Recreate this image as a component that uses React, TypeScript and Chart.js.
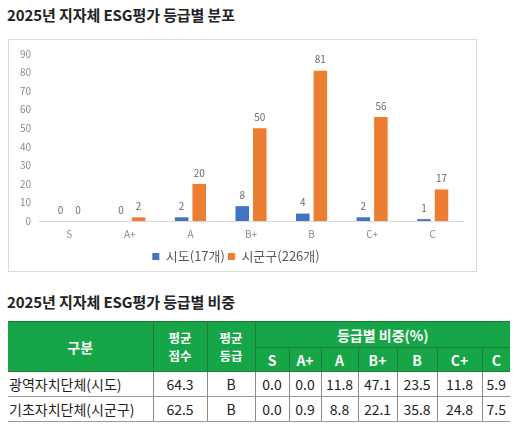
import React, { useEffect, useRef } from "react";
import { Chart, registerables } from "chart.js";

Chart.register(...registerables);

const FONT = '"Noto Sans CJK KR", "Noto Sans", sans-serif';

const chartTitle = "2025년 지자체 ESG평가 등급별 분포";
const tableTitle = "2025년 지자체 ESG평가 등급별 비중";

const grades = ["S", "A+", "A", "B+", "B", "C+", "C"];
const sidoCounts = [0, 0, 2, 8, 4, 2, 1];
const sigunguCounts = [0, 2, 20, 50, 81, 56, 17];
const seriesNames = ["시도(17개)", "시군구(226개)"];
const yMax = 90;
const yStep = 10;

const rowNames = ["광역자치단체(시도)", "기초자치단체(시군구)"];
const avgScores = [64.3, 62.5];
const avgGrades = ["B", "B"];
const sidoShare = [0.0, 0.0, 11.8, 47.1, 23.5, 11.8, 5.9];
const sigunguShare = [0.0, 0.9, 8.8, 22.1, 35.8, 24.8, 7.5];
const shareRows = [sidoShare, sigunguShare];

const BLUE = "#4472C4";
const ORANGE = "#ED7D31";
const GREEN = "#17a647";
const GREEN_LINE = "#1f7a3c";

const valueLabels = {
  id: "valueLabels",
  afterDatasetsDraw(chart: any) {
    const ctx = chart.ctx;
    ctx.save();
    ctx.font = `10px ${FONT}`;
    ctx.fillStyle = "#6b6b6b";
    ctx.textAlign = "center";
    ctx.textBaseline = "middle";
    chart.data.datasets.forEach((ds: any, i: number) => {
      const meta = chart.getDatasetMeta(i);
      meta.data.forEach((el: any, j: number) => {
        ctx.fillText(String(ds.data[j]), el.x, el.y - 11);
      });
    });
    ctx.restore();
  },
};

function BarChart() {
  const ref = useRef<HTMLCanvasElement | null>(null);
  useEffect(() => {
    if (!ref.current) return;
    Chart.defaults.font.family = FONT;
    const chart = new Chart(ref.current, {
      type: "bar",
      data: {
        labels: grades,
        datasets: [
          {
            label: seriesNames[0],
            data: sidoCounts,
            backgroundColor: BLUE,
            categoryPercentage: 0.58,
            barPercentage: 0.77,
          },
          {
            label: seriesNames[1],
            data: sigunguCounts,
            backgroundColor: ORANGE,
            categoryPercentage: 0.58,
            barPercentage: 0.77,
          },
        ],
      },
      options: {
        animation: false,
        responsive: true,
        maintainAspectRatio: false,
        layout: { padding: { top: 8, right: 13, left: 0, bottom: -2 } },
        plugins: {
          tooltip: { enabled: false },
          legend: {
            position: "bottom",
            labels: {
              boxWidth: 7,
              boxHeight: 7,
              padding: 3,
              color: "#595959",
              font: { size: 13, family: FONT },
            },
          },
        },
        scales: {
          x: {
            grid: { display: false, drawTicks: false },
            border: { display: true, color: "#d9d9d9" },
            ticks: { color: "#8c8c8c", font: { size: 10 }, padding: 7 },
          },
          y: {
            min: 0,
            max: yMax,
            afterFit: (s: any) => {
              s.width = 30;
            },
            grid: { display: false, drawTicks: false },
            border: { display: false },
            ticks: { stepSize: yStep, color: "#8c8c8c", font: { size: 10 }, padding: 8 },
          },
        },
      },
      plugins: [valueLabels],
    });
    return () => chart.destroy();
  }, []);
  return (
    <div style={{ position: "relative", width: 467, height: 231 }}>
      <canvas ref={ref} />
    </div>
  );
}

const thBase: React.CSSProperties = {
  background: GREEN,
  color: "#fff",
  fontWeight: 700,
  border: `1px solid ${GREEN_LINE}`,
  padding: 0,
  textAlign: "center",
  verticalAlign: "middle",
};

const tdBase: React.CSSProperties = {
  borderLeft: "1px solid #8a8a8a",
  borderBottom: "1px solid #9a9a9a",
  padding: 0,
  textAlign: "center",
  verticalAlign: "middle",
  fontSize: 14,
  color: "#222",
  height: 24,
};

const colWidths = [145, 54, 48, 34, 32, 37, 39, 40, 45, 28];

export default function App() {
  return (
    <div
      style={{
        position: "absolute",
        left: 0,
        top: 0,
        width: 530,
        height: 432,
        background: "#fff",
        fontFamily: FONT,
      }}
    >
      <div
        style={{
          position: "absolute",
          left: 7,
          top: 5,
          fontSize: 15,
          lineHeight: "20px",
          fontWeight: 700,
          color: "#222",
          letterSpacing: -0.1,
        }}
      >
        {chartTitle}
      </div>
      <div
        style={{
          position: "absolute",
          left: 8,
          top: 39,
          width: 469,
          height: 233,
          boxSizing: "border-box",
          border: "1px solid #d9d9d9",
        }}
      >
        <BarChart />
      </div>
      <div
        style={{
          position: "absolute",
          left: 7,
          top: 292,
          fontSize: 15,
          lineHeight: "20px",
          fontWeight: 700,
          color: "#222",
          letterSpacing: -0.1,
        }}
      >
        {tableTitle}
      </div>
      <table
        style={{
          position: "absolute",
          left: 8,
          top: 321,
          width: 502,
          borderCollapse: "collapse",
          tableLayout: "fixed",
          fontFamily: FONT,
        }}
      >
        <colgroup>
          {colWidths.map((w, i) => (
            <col key={i} style={{ width: w }} />
          ))}
        </colgroup>
        <thead>
          <tr style={{ height: 26 }}>
            <th rowSpan={2} style={{ ...thBase, fontSize: 14, borderLeft: "none" }}>
              구분
            </th>
            <th rowSpan={2} style={{ ...thBase, fontSize: 12.5, lineHeight: "18px" }}>
              평균
              <br />
              점수
            </th>
            <th rowSpan={2} style={{ ...thBase, fontSize: 12.5, lineHeight: "18px" }}>
              평균
              <br />
              등급
            </th>
            <th colSpan={7} style={{ ...thBase, fontSize: 14, borderRight: "none" }}>
              등급별 비중(%)
            </th>
          </tr>
          <tr style={{ height: 24 }}>
            {grades.map((g, i) => (
              <th
                key={g}
                style={{
                  ...thBase,
                  fontSize: 14,
                  borderRight: i === grades.length - 1 ? "none" : thBase.border,
                }}
              >
                {g}
              </th>
            ))}
          </tr>
        </thead>
        <tbody>
          {rowNames.map((name, r) => (
            <tr key={name} style={{ height: 25 }}>
              <td style={{ ...tdBase, textAlign: "left", borderLeft: "none", paddingLeft: 1 }}>
                {name}
              </td>
              <td style={tdBase}>{avgScores[r].toFixed(1)}</td>
              <td style={tdBase}>{avgGrades[r]}</td>
              {shareRows[r].map((v, i) => (
                <td key={i} style={tdBase}>
                  {v.toFixed(1)}
                </td>
              ))}
            </tr>
          ))}
        </tbody>
      </table>
    </div>
  );
}
